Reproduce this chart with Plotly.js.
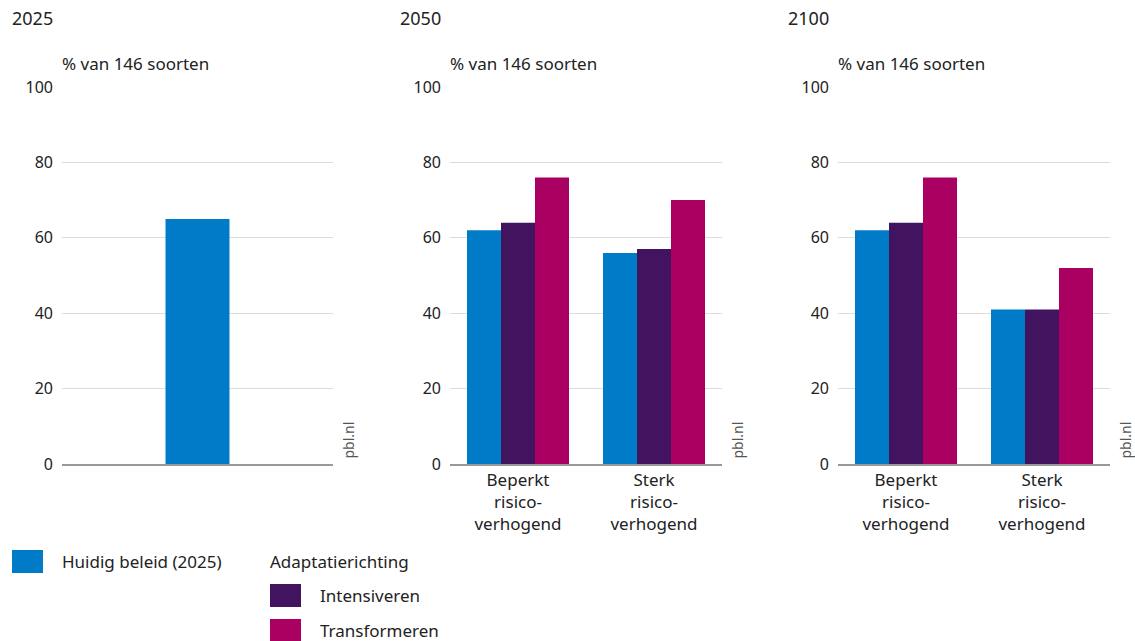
<!DOCTYPE html>
<html>
<head>
<meta charset="utf-8">
<script src="https://cdn.plot.ly/plotly-3.0.1.min.js"></script>
<style>html,body{margin:0;padding:0;background:#fff}#chart{width:1135px;height:641px}</style>
</head>
<body>
<div id="chart"></div>
<script>
// ---- data ----
const panelTitles = ["2025", "2050", "2100"];
const yAxisTitle = "% van 146 soorten";
const categories = ["Beperkt<br>risico-<br>verhogend", "Sterk<br>risico-<br>verhogend"];
const seriesNames = ["Huidig beleid (2025)", "Intensiveren", "Transformeren"];
const legendGroupTitle = "Adaptatierichting";
const current2025 = [65];
const huidig2050 = [62, 56];
const intens2050 = [64, 57];
const transf2050 = [76, 70];
const huidig2100 = [62, 41];
const intens2100 = [64, 41];
const transf2100 = [76, 52];
const yTicks = [0, 20, 40, 60, 80, 100];
const sourceLabel = "pbl.nl";

const colors = ["#007bc7", "#42145f", "#a90061"];
const W = 1135, H = 641;
const px = x => x / W;
const py = y => 1 - y / H;
const FONT = "Noto Sans, sans-serif";

const traces = [
  {type: "bar", x: [0], y: current2025, width: [0.236], marker: {color: colors[0]}, xaxis: "x", yaxis: "y", hoverinfo: "y", showlegend: false},
  {type: "bar", x: categories, y: huidig2050, marker: {color: colors[0]}, xaxis: "x2", yaxis: "y2", showlegend: false},
  {type: "bar", x: categories, y: intens2050, marker: {color: colors[1]}, xaxis: "x2", yaxis: "y2", showlegend: false},
  {type: "bar", x: categories, y: transf2050, marker: {color: colors[2]}, xaxis: "x2", yaxis: "y2", showlegend: false},
  {type: "bar", x: categories, y: huidig2100, marker: {color: colors[0]}, xaxis: "x3", yaxis: "y3", showlegend: false},
  {type: "bar", x: categories, y: intens2100, marker: {color: colors[1]}, xaxis: "x3", yaxis: "y3", showlegend: false},
  {type: "bar", x: categories, y: transf2100, marker: {color: colors[2]}, xaxis: "x3", yaxis: "y3", showlegend: false}
];

const xDomains = [[62, 333], [450, 722], [838, 1110]];
const yDomain = [py(464), py(87)];

const layout = {
  width: W, height: H,
  margin: {l: 0, r: 0, t: 0, b: 0},
  paper_bgcolor: "#fff", plot_bgcolor: "#fff",
  font: {family: FONT, color: "#222", size: 16},
  barmode: "group", bargap: 0.25, bargroupgap: 0,
  showlegend: false,
  shapes: [], annotations: []
};

xDomains.forEach((d, i) => {
  const s = i === 0 ? "" : String(i + 1);
  const xa = {
    domain: [px(d[0]), px(d[1])],
    anchor: "y" + s,
    showline: true, linecolor: "#999", linewidth: 1.5,
    showgrid: false, zeroline: false, ticks: "",
    tickfont: {size: 17, color: "#222", family: FONT},
    fixedrange: true
  };
  if (i === 0) { xa.type = "linear"; xa.range = [-0.5, 0.5]; xa.showticklabels = false; }
  else { xa.type = "category"; }
  layout["xaxis" + s] = xa;
  layout["yaxis" + s] = {
    domain: yDomain, anchor: "x" + s,
    range: [0, 100], tickvals: yTicks,
    showgrid: true, gridcolor: "#dcdcdc", gridwidth: 1,
    zeroline: false, showline: false, ticks: "",
    ticklabelstandoff: 8,
    tickfont: {size: 16, color: "#222", family: FONT},
    fixedrange: true
  };
  layout.annotations.push({
    text: panelTitles[i], xref: "paper", yref: "paper",
    x: px(d[0] - 52), y: py(18), xanchor: "left", yanchor: "middle",
    showarrow: false, font: {size: 18, color: "#222", family: FONT}
  });
  layout.annotations.push({
    text: yAxisTitle, xref: "paper", yref: "paper",
    x: px(d[0] - 2), y: py(63), xanchor: "left", yanchor: "middle",
    showarrow: false, font: {size: 17, color: "#222", family: FONT}
  });
  layout.annotations.push({
    text: sourceLabel, xref: "paper", yref: "paper",
    x: px(d[1] + 15), y: py(461), xanchor: "center", yanchor: "bottom",
    textangle: -90, showarrow: false, font: {size: 14, color: "#555", family: FONT}
  });
});

// legend (custom)
const legendItems = [
  {name: seriesNames[0], color: colors[0], x: 12, y: 550},
  {name: seriesNames[1], color: colors[1], x: 270, y: 584},
  {name: seriesNames[2], color: colors[2], x: 270, y: 619}
];
legendItems.forEach(it => {
  layout.shapes.push({
    type: "rect", xref: "paper", yref: "paper",
    x0: px(it.x), x1: px(it.x + 31), y0: py(it.y), y1: py(it.y + 23),
    fillcolor: it.color, line: {width: 0}
  });
  layout.annotations.push({
    text: it.name, xref: "paper", yref: "paper",
    x: px(it.x + 48), y: py(it.y + 11.5), xanchor: "left", yanchor: "middle",
    showarrow: false, font: {size: 17, color: "#222", family: FONT}
  });
});
layout.annotations.push({
  text: legendGroupTitle, xref: "paper", yref: "paper",
  x: px(268), y: py(561), xanchor: "left", yanchor: "middle",
  showarrow: false, font: {size: 17, color: "#222", family: FONT}
});

Plotly.newPlot("chart", traces, layout, {displayModeBar: false, staticPlot: true});
</script>
</body>
</html>
